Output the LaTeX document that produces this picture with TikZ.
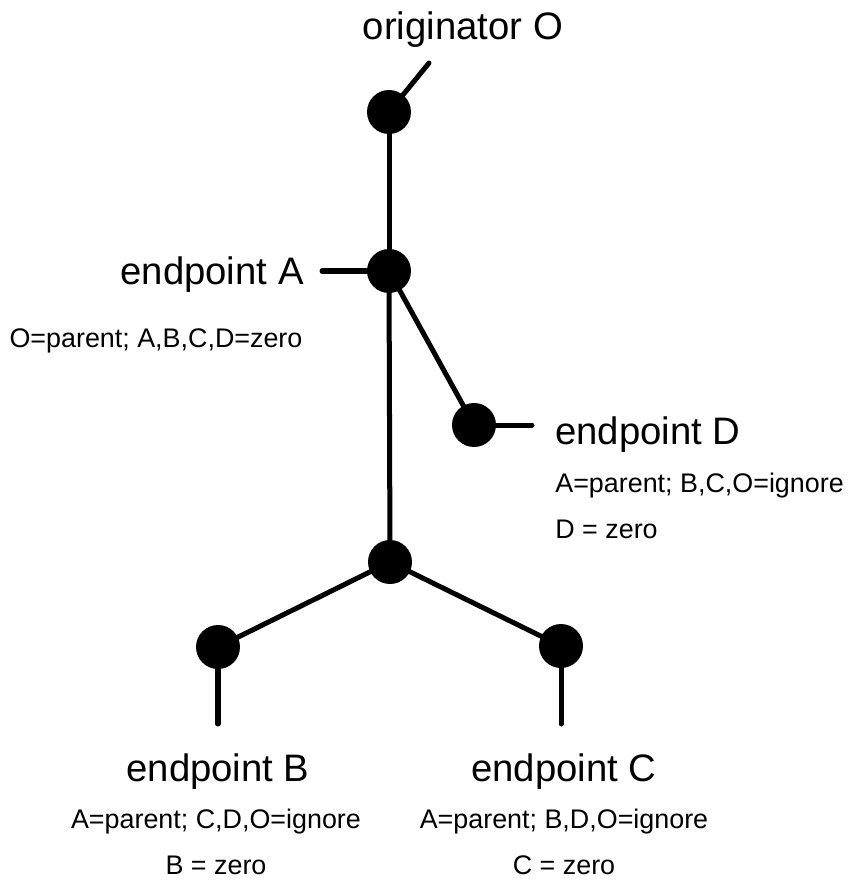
\documentclass[tikz,border=0pt]{standalone}
\usepackage{fontspec}
\setmainfont{Liberation Sans}
\usetikzlibrary{positioning}
\tikzstyle{wire} = [line width=2.85pt, line cap=round]
\tikzstyle{dot} = [circle, fill=black, inner sep=0pt, minimum size=0.88cm]
\tikzstyle{bigtext} = [inner sep=0pt, font=\fontsize{21.8}{24}\selectfont]
\tikzstyle{smalltext} = [inner sep=0pt, font=\fontsize{15.3}{18}\selectfont]

\begin{document}
\begin{tikzpicture}[x=0.02cm, y=-0.02cm]
\useasboundingbox (0,0) rectangle (849,882);

% Dots
\node[dot] (top) at (389,112) {};
\node[dot] (epA) at (389,271) {};
\node[dot] (epD) at (474,425) {};
\node[dot] (mid) at (390,562) {};
\node[dot] (epB) at (218,647) {};
\node[dot] (epC) at (561,646) {};

% Stub ends
\coordinate (topend) at (429,63);
\coordinate (Aend) at (322,271);
\coordinate (Dend) at (532,425);
\coordinate (Bend) at (218,724);
\coordinate (Cend) at (561,724);

% Labels
\node[bigtext, anchor=base] (orig) at (463,40) {originator O};
\node[bigtext, anchor=base east] (labA) at (304,284) {endpoint A};
\node[smalltext, anchor=base] (ruleA) at (156,347) {O=parent; A,B,C,D=zero};
\node[bigtext, anchor=base west] (labD) at (555,444) {endpoint D};
\node[smalltext, anchor=base west] (ruleD) at (555,492) {A=parent; B,C,O=ignore};
\node[smalltext, anchor=base west] (zeroD) at (555,538) {D = zero};
\node[bigtext, anchor=base] (labB) at (218,781) {endpoint B};
\node[smalltext, anchor=base] (ruleB) at (216,828) {A=parent; C,D,O=ignore};
\node[smalltext, anchor=base] (zeroB) at (216,874) {B = zero};
\node[bigtext, anchor=base] (labC) at (564,781) {endpoint C};
\node[smalltext, anchor=base] (ruleC) at (564,828) {A=parent; B,D,O=ignore};
\node[smalltext, anchor=base] (zeroC) at (564,874) {C = zero};

% Connections
\draw[wire] (top.center) -- (topend);
\draw[wire] (top.center) -- (epA.center);
\draw[wire] (epA.center) -- (Aend);
\draw[wire] (epA.center) -- (epD.center);
\draw[wire] (epD.center) -- (Dend);
\draw[wire] (epA.center) -- (mid.center);
\draw[wire] (mid.center) -- (epB.center);
\draw[wire] (mid.center) -- (epC.center);
\draw[wire] (epB.center) -- (Bend);
\draw[wire] (epC.center) -- (Cend);

\end{tikzpicture}
\end{document}
